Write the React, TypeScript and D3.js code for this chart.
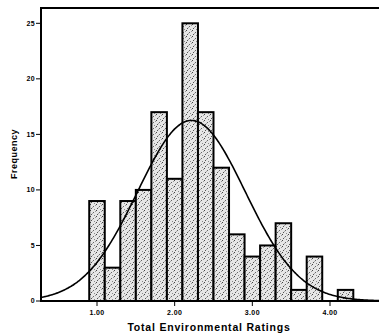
import React from "react";
import * as d3 from "d3";

// Bin centers (Total Environmental Ratings) and frequencies
const binCenters = [1.0, 1.2, 1.4, 1.6, 1.8, 2.0, 2.2, 2.4, 2.6, 2.8, 3.0, 3.2, 3.4, 3.6, 3.8, 4.0, 4.2];
const frequencies = [9, 3, 9, 10, 17, 11, 25, 17, 12, 6, 4, 5, 7, 1, 4, 0, 1];
const binWidth = 0.2;
const xTicks = [1.0, 2.0, 3.0, 4.0];
const yTicks = [0, 5, 10, 15, 20, 25];
const xTitle = "Total Environmental Ratings";
const yTitle = "Frequency";

const W = 379;
const H = 336;

export default function App() {
  const left = 41;
  const top = 8;
  const bottom = 301;
  const x = d3.scaleLinear().domain([1, 4]).range([97, 330]);
  const y = d3.scaleLinear().domain([0, 25]).range([bottom, 23.3]);
  const xMin = x.invert(left);
  const xMax = x.invert(W + 2);

  const N = d3.sum(frequencies);
  const mean = d3.sum(binCenters.map((c, i) => c * frequencies[i])) / N;
  const variance =
    d3.sum(binCenters.map((c, i) => frequencies[i] * (c - mean) ** 2)) / (N - 1);
  const sd = Math.sqrt(variance);
  const curvePts = d3.range(0, 301).map((i) => {
    const v = xMin + ((xMax - xMin) * i) / 300;
    const dens = (N * binWidth) / (sd * Math.sqrt(2 * Math.PI)) * Math.exp(-0.5 * ((v - mean) / sd) ** 2);
    return [v, dens] as [number, number];
  });
  const line = d3
    .line<[number, number]>()
    .x((d) => x(d[0]))
    .y((d) => y(d[1]))
    .curve(d3.curveBasis);

  const font = "Liberation Sans, Arial, sans-serif";

  return (
    <svg
      width={W}
      height={H}
      style={{ position: "absolute", left: 0, top: 0, background: "#fff" }}
    >
      <defs>
        <pattern id="stip" width="6" height="6" patternUnits="userSpaceOnUse">
          <rect width="6" height="6" fill="#e6e6e6" />
          <rect x="0" y="0" width="1" height="1" fill="#444" />
          <rect x="3" y="2" width="1" height="1" fill="#666" />
          <rect x="1" y="4" width="1" height="1" fill="#555" />
          <rect x="4" y="5" width="1" height="1" fill="#888" />
          <rect x="5" y="1" width="1" height="1" fill="#999" />
          <rect x="2" y="3" width="1" height="1" fill="#aaa" />
        </pattern>
      </defs>
      {/* bars */}
      {binCenters.map((c, i) =>
        frequencies[i] > 0 ? (
          <rect
            key={i}
            x={x(c - binWidth / 2)}
            y={y(frequencies[i])}
            width={x(c + binWidth / 2) - x(c - binWidth / 2)}
            height={bottom - y(frequencies[i])}
            fill="url(#stip)"
            stroke="#000"
            strokeWidth={2}
          />
        ) : null
      )}
      {/* normal curve */}
      <path d={line(curvePts) || ""} fill="none" stroke="#000" strokeWidth={1.6} />
      {/* frame */}
      <line x1={left} x2={W} y1={top} y2={top} stroke="#000" strokeWidth={2} />
      <line x1={left} x2={left} y1={top - 1} y2={bottom + 1} stroke="#000" strokeWidth={2} />
      <line x1={left - 1} x2={W} y1={bottom} y2={bottom} stroke="#000" strokeWidth={2} />
      {/* y ticks */}
      {yTicks.map((t) => (
        <g key={t}>
          <line x1={left - 5} x2={left} y1={y(t)} y2={y(t)} stroke="#000" strokeWidth={1} />
          <text
            x={left - 6}
            y={y(t)}
            dy="0.35em"
            textAnchor="end"
            fontFamily={font}
            fontWeight="bold"
            fontSize={7}
            letterSpacing={0.3}
          >
            {t}
          </text>
        </g>
      ))}
      {/* x ticks */}
      {xTicks.map((t) => (
        <g key={t}>
          <line x1={x(t)} x2={x(t)} y1={bottom} y2={bottom + 5} stroke="#000" strokeWidth={1} />
          <text
            x={x(t)}
            y={bottom + 14}
            textAnchor="middle"
            fontFamily={font}
            fontWeight="bold"
            fontSize={7}
            letterSpacing={0.4}
          >
            {t.toFixed(2)}
          </text>
        </g>
      ))}
      <text
        x={(128 + 290) / 2}
        y={331}
        textAnchor="middle"
        fontFamily={font}
        fontWeight="bold"
        fontSize={10.5}
        letterSpacing={0.8}
      >
        {xTitle}
      </text>
      <text
        transform={`translate(17, 154) rotate(-90)`}
        textAnchor="middle"
        fontFamily={font}
        fontWeight="bold"
        fontSize={9}
        letterSpacing={0.5}
      >
        {yTitle}
      </text>
    </svg>
  );
}
